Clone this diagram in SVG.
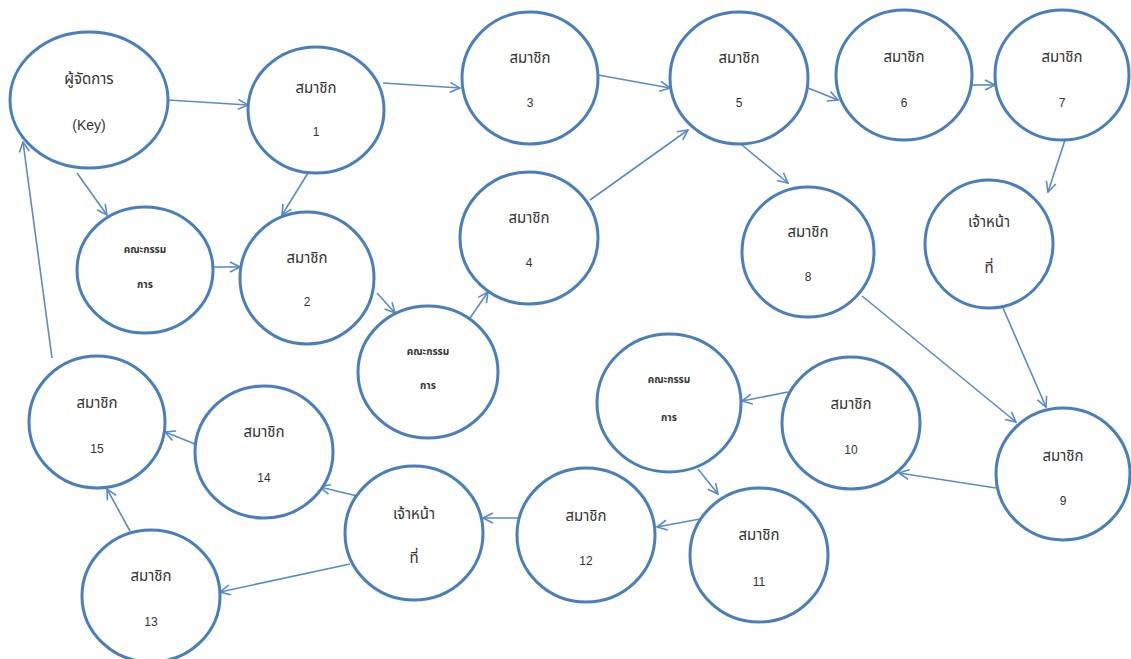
<svg xmlns="http://www.w3.org/2000/svg" width="1131" height="659" viewBox="0 0 1131 659">
<style>
.n{fill:#fff;stroke:#4a7ebb;stroke-width:3}
.e{stroke:#5a8ac6;stroke-width:1.6;fill:none;marker-end:url(#a)}
.t{font-family:"Noto Sans Thai","Tahoma","DejaVu Sans","Noto Sans",sans-serif;font-size:15px;fill:#333;text-anchor:middle;dominant-baseline:central}
.num{font-family:"Liberation Sans",Arial,sans-serif;font-size:12px;fill:#333;text-anchor:middle;dominant-baseline:central}
.s{font-size:10px;font-weight:bold}
</style>
<defs>
<marker id="a" viewBox="0 0 12 12" refX="11" refY="6" markerWidth="12" markerHeight="12" markerUnits="userSpaceOnUse" orient="auto">
<path d="M1,1 L11,6 L1,11" fill="none" stroke="#5a8ac6" stroke-width="1.6"/>
</marker>
</defs>
<g id="connectors">
<line class="e" x1="168" y1="100" x2="248" y2="105"/>
<line class="e" x1="77" y1="173" x2="107" y2="215"/>
<line class="e" x1="308" y1="173" x2="282" y2="215"/>
<line class="e" x1="213" y1="267" x2="240" y2="267"/>
<line class="e" x1="383" y1="83" x2="460" y2="88"/>
<line class="e" x1="377" y1="293" x2="395" y2="313"/>
<line class="e" x1="470" y1="318" x2="488" y2="292"/>
<line class="e" x1="598" y1="75" x2="670" y2="88"/>
<line class="e" x1="590" y1="200" x2="688" y2="130"/>
<line class="e" x1="808" y1="88" x2="838" y2="100"/>
<line class="e" x1="972" y1="85" x2="995" y2="85"/>
<line class="e" x1="742" y1="145" x2="788" y2="183"/>
<line class="e" x1="1065" y1="140" x2="1048" y2="192"/>
<line class="e" x1="862" y1="296" x2="1016" y2="422"/>
<line class="e" x1="1003" y1="308" x2="1046" y2="407"/>
<line class="e" x1="996" y1="488" x2="899" y2="473"/>
<line class="e" x1="788" y1="392" x2="742" y2="401"/>
<line class="e" x1="698" y1="469" x2="718" y2="494"/>
<line class="e" x1="700" y1="519" x2="657" y2="527"/>
<line class="e" x1="518" y1="518" x2="483" y2="518"/>
<line class="e" x1="357" y1="496" x2="320" y2="487"/>
<line class="e" x1="350" y1="564" x2="220" y2="592"/>
<line class="e" x1="195" y1="444" x2="165" y2="432"/>
<line class="e" x1="130" y1="531" x2="107" y2="489"/>
<line class="e" x1="52" y1="358" x2="23" y2="142"/>
</g>
<g id="key"><ellipse class="n" cx="89" cy="100" rx="79" ry="68"/><text class="t" x="89" y="79">ผู้จัดการ</text><text class="num" x="89" y="125" style="font-size:14px">(Key)</text></g>
<g id="m1"><ellipse class="n" cx="316" cy="110" rx="68" ry="63"/><text class="t" x="316" y="88">สมาชิก</text><text class="num" x="316" y="132">1</text></g>
<g id="c1"><ellipse class="n" cx="145" cy="270" rx="68" ry="63"/><text class="t s" x="145" y="250">คณะกรรม</text><text class="t s" x="145" y="285">การ</text></g>
<g id="m2"><ellipse class="n" cx="307" cy="278" rx="67" ry="66"/><text class="t" x="307" y="258">สมาชิก</text><text class="num" x="307" y="302">2</text></g>
<g id="m3"><ellipse class="n" cx="530" cy="78" rx="68" ry="66"/><text class="t" x="530" y="58">สมาชิก</text><text class="num" x="530" y="103">3</text></g>
<g id="m4"><ellipse class="n" cx="529" cy="238" rx="69" ry="66"/><text class="t" x="529" y="218">สมาชิก</text><text class="num" x="529" y="263">4</text></g>
<g id="m5"><ellipse class="n" cx="739" cy="78" rx="69" ry="66"/><text class="t" x="739" y="58">สมาชิก</text><text class="num" x="739" y="103">5</text></g>
<g id="m6"><ellipse class="n" cx="904" cy="75" rx="68" ry="65"/><text class="t" x="904" y="57">สมาชิก</text><text class="num" x="904" y="103">6</text></g>
<g id="m7"><ellipse class="n" cx="1062" cy="75" rx="67" ry="65"/><text class="t" x="1062" y="57">สมาชิก</text><text class="num" x="1062" y="103">7</text></g>
<g id="m8"><ellipse class="n" cx="808" cy="252" rx="66" ry="65"/><text class="t" x="808" y="232">สมาชิก</text><text class="num" x="808" y="277">8</text></g>
<g id="s1"><ellipse class="n" cx="989" cy="244" rx="64" ry="64"/><text class="t" x="989" y="222">เจ้าหน้า</text><text class="t" x="989" y="268">ที่</text></g>
<g id="c2"><ellipse class="n" cx="428" cy="372" rx="70" ry="66"/><text class="t s" x="428" y="352">คณะกรรม</text><text class="t s" x="428" y="386">การ</text></g>
<g id="m9"><ellipse class="n" cx="1063" cy="474" rx="67" ry="66"/><text class="t" x="1063" y="456">สมาชิก</text><text class="num" x="1063" y="501">9</text></g>
<g id="m10"><ellipse class="n" cx="851" cy="423" rx="69" ry="66"/><text class="t" x="851" y="404">สมาชิก</text><text class="num" x="851" y="450">10</text></g>
<g id="c3"><ellipse class="n" cx="669" cy="403" rx="72" ry="69"/><text class="t s" x="669" y="380">คณะกรรม</text><text class="t s" x="669" y="418">การ</text></g>
<g id="m11"><ellipse class="n" cx="759" cy="555" rx="69" ry="67"/><text class="t" x="759" y="535">สมาชิก</text><text class="num" x="759" y="582">11</text></g>
<g id="m12"><ellipse class="n" cx="586" cy="535" rx="69" ry="67"/><text class="t" x="586" y="516">สมาชิก</text><text class="num" x="586" y="561">12</text></g>
<g id="s2"><ellipse class="n" cx="414" cy="533" rx="69" ry="67"/><text class="t" x="414" y="514">เจ้าหน้า</text><text class="t" x="414" y="558">ที่</text></g>
<g id="m13"><ellipse class="n" cx="151" cy="596" rx="69" ry="66"/><text class="t" x="151" y="576">สมาชิก</text><text class="num" x="151" y="622">13</text></g>
<g id="m14"><ellipse class="n" cx="264" cy="452" rx="69" ry="66"/><text class="t" x="264" y="432">สมาชิก</text><text class="num" x="264" y="478">14</text></g>
<g id="m15"><ellipse class="n" cx="97" cy="422" rx="68" ry="66"/><text class="t" x="97" y="403">สมาชิก</text><text class="num" x="97" y="449">15</text></g>
</svg>
